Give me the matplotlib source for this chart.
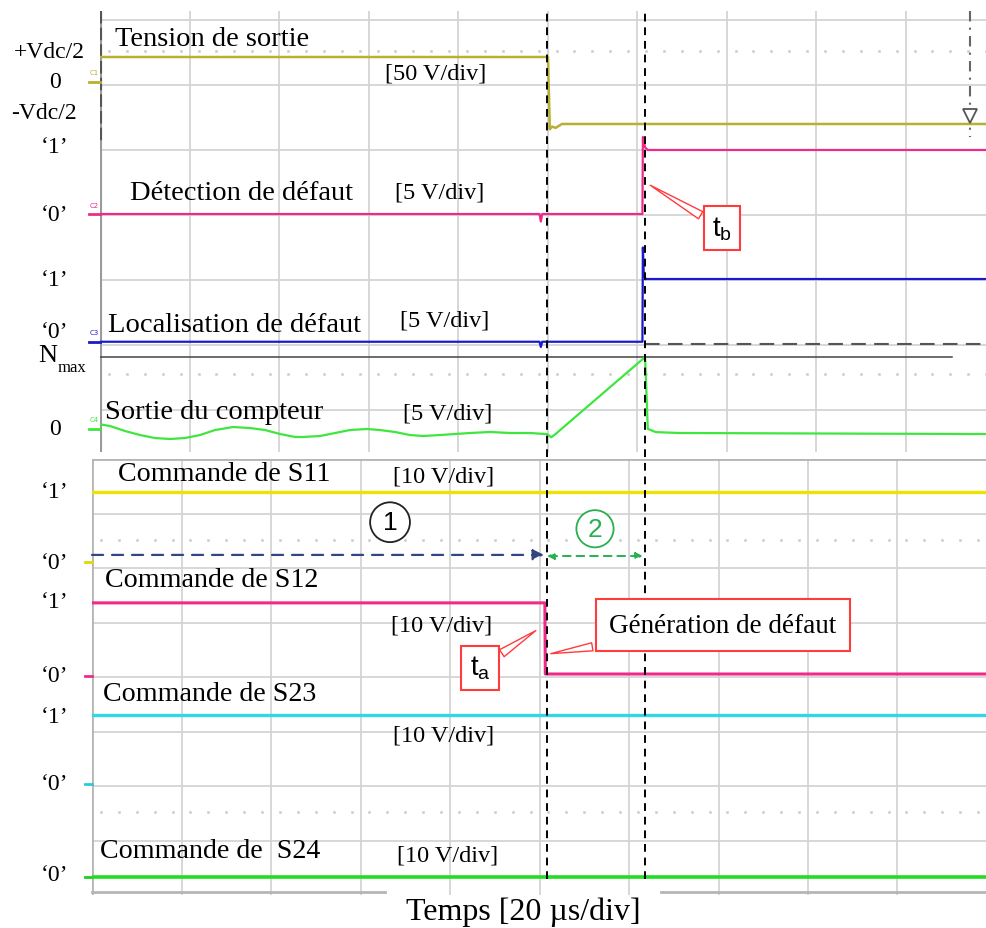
import matplotlib
matplotlib.use("Agg")
import matplotlib.pyplot as plt
import numpy as np

plt.rcParams['font.family'] = ['Liberation Serif', 'DejaVu Serif']

# ---------------- data ----------------
# time base 20 us/div ; levels in screen divisions
t_a = 101.7          # fault generation (us)
t_b = 123.6          # fault detection (us)

# top screen traces
vout_t = [1.8, 101.9, 102.3, 102.8, 103.6, 105.0, 110.0, 200.0]
vout_y = [7.43, 7.43, 6.32, 6.36, 6.34, 6.40, 6.40, 6.40]

det_t = [1.8, 100.0, 100.3, 100.6, 123.0, 123.1, 123.6, 124.2, 200.0]
det_y = [5.015, 5.015, 4.90, 5.015, 5.015, 6.20, 6.04, 6.00, 6.00]

loc_t = [1.8, 100.0, 100.3, 100.6, 123.0, 123.1, 123.3, 123.7, 200.0]
loc_y = [3.05, 3.05, 2.97, 3.05, 3.05, 4.50, 4.10, 4.015, 4.015]

cnt_t = [1.34, 4.02, 7.37, 10.73, 14.08, 17.43, 20.78, 24.13, 27.49, 31.51,
         35.31, 38.66, 42.01, 45.36, 47.15, 50.95, 54.30, 57.65, 61.45, 64.36,
         67.71, 71.06, 73.97, 77.77, 81.12, 84.47, 88.94, 93.41, 97.88, 101.23,
         101.7, 102.6, 103.4, 123.6, 124.2, 126.0, 131.4, 200.0]
cnt_y = [1.785, 1.754, 1.677, 1.615, 1.569, 1.554, 1.569, 1.615, 1.692, 1.738,
         1.723, 1.692, 1.631, 1.585, 1.585, 1.600, 1.646, 1.692, 1.708, 1.692,
         1.662, 1.615, 1.600, 1.615, 1.631, 1.646, 1.662, 1.646, 1.646, 1.631,
         1.63, 1.58, 1.62, 2.815, 1.71, 1.66, 1.646, 1.63]

nmax_level = 2.815
nmax_t = [1.8, 192.2]
ref_dash_level = 3.015
trig_t = 196.2

# bottom screen traces
s11_t = [0.0, 200.0]
s11_y = [7.39, 7.39]
s12_t = [0.0, 101.2, 101.3, 200.0]
s12_y = [5.36, 5.36, 4.055, 4.055]
s23_t = [0.0, 200.0]
s23_y = [3.30, 3.30]
s24_t = [0.0, 200.0]
s24_y = [0.33, 0.33]

arrow1 = (0.0, 101.0, 6.24)
arrow2 = (101.7, 123.1, 6.22)

top_labels = [("+Vdc/2", -9.5, 7.52), ("0", -8.3, 7.05), ("-Vdc/2", -10.8, 6.58),
              ("\u20181\u2019", -8.3, 6.06), ("\u20180\u2019", -8.3, 5.015),
              ("\u20181\u2019", -8.3, 4.015), ("\u20180\u2019", -8.3, 3.215),
              ("0", -8.3, 1.71)]
bot_labels = [("\u20181\u2019", -8.3, 7.41), ("\u20180\u2019", -8.3, 6.11),
              ("\u20181\u2019", -8.3, 5.39), ("\u20180\u2019", -8.3, 4.02),
              ("\u20181\u2019", -8.3, 3.28), ("\u20180\u2019", -8.3, 2.04),
              ("\u20180\u2019", -8.3, 0.385)]

top_titles = [("Tension de sortie", 5.1, 7.72), ("[50 V/div]", 65.5, 7.18),
              ("D\u00e9tection de d\u00e9faut", 8.5, 5.35), ("[5 V/div]", 67.7, 5.35),
              ("Localisation de d\u00e9faut", 3.6, 3.32), ("[5 V/div]", 68.8, 3.38),
              ("Sortie du compteur", 2.9, 1.98), ("[5 V/div]", 69.5, 1.95)]
bot_titles = [("Commande de S11", 5.8, 7.74), ("[10 V/div]", 67.3, 7.69),
              ("Commande de S12", 2.9, 5.78), ("[10 V/div]", 66.8, 4.95),
              ("Commande de S23", 2.5, 3.70), ("[10 V/div]", 67.3, 2.93),
              ("Commande de  S24", 1.8, 0.81), ("[10 V/div]", 68.2, 0.73)]

# ---------------- figure ----------------
W, H = 987, 929
fig = plt.figure(figsize=(W / 100, H / 100), dpi=100)

def rect(l, r, t, b):
    return [l / W, (H - b) / H, (r - l) / W, (b - t) / H]

axT = fig.add_axes(rect(100, 987, 12, 453))
axB = fig.add_axes(rect(92, 987, 460, 896))
for ax in (axT, axB):
    ax.set_facecolor('none')
    for s in ax.spines.values():
        s.set_visible(False)
    ax.set_xticks([])
    ax.set_yticks([])

axT.set_xlim(1.788, 200.0)
axT.set_ylim(1.354, 8.138)
axB.set_xlim(0, 200)
axB.set_ylim(0, 8)

grid_c = '#d4d4d4'
# top grid
for k in range(1, 10):
    axT.axvline(1.788 + 20 * k, color=grid_c, lw=1.3, zorder=0)
for yv in range(2, 9):
    axT.axhline(yv, color=grid_c, lw=1.3, zorder=0)
axT.axvline(1.9, color='#9a9a9a', lw=1.5, zorder=0.5)
axT.plot([1.9, 1.9], [8.14, 6.1], color='#555555', lw=1.5, dashes=(6, 2),
         zorder=0.6)
# bottom grid
for k in range(1, 10):
    axB.axvline(20 * k, color=grid_c, lw=1.3, zorder=0)
for yv in range(1, 8):
    axB.axhline(yv, color=grid_c, lw=1.3, zorder=0)
axB.axhline(8, color='#b5b5b5', lw=2, zorder=0.5)
axB.axvline(0.1, color='#b5b5b5', lw=2, zorder=0.5)
axB.plot([0, 65.5], [0.05, 0.05], color='#b5b5b5', lw=2, clip_on=False)
axB.plot([127.2, 200], [0.05, 0.05], color='#b5b5b5', lw=2, clip_on=False)

# dotted minor rows
dots = np.array([d for d in np.arange(2.0, 200, 4.0) if d % 20 != 0])
for yv in (7.52, 2.55):
    axT.plot(dots + 1.8, [yv] * len(dots), ls='none', marker='s', ms=1.0,
             color='#cfcfcf', zorder=0)
for yv in (6.51, 1.52):
    axB.plot(dots, [yv] * len(dots), ls='none', marker='s', ms=1.0,
             color='#cfcfcf', zorder=0)

# top traces
axT.plot(vout_t, vout_y, color='#b8b030', lw=1.8, zorder=3)
axT.plot(det_t, det_y, color='#ee2a8a', lw=1.6, zorder=3)
axT.plot(loc_t, loc_y, color='#1a1acc', lw=1.6, zorder=3)
axT.plot(cnt_t, cnt_y, color='#3ee63e', lw=1.6, zorder=3)
axT.plot(nmax_t, [nmax_level] * 2, color='#444444', lw=1.1, zorder=2)
axT.plot([t_b, 200], [ref_dash_level] * 2, color='#555555', lw=1.5,
         dashes=(7, 4), zorder=2)
axT.plot([trig_t, trig_t], [8.14, 6.2], color='#666666', lw=1.5,
         dashes=(5, 3, 1, 3), zorder=2)
axT.plot([trig_t], [6.52], marker='v', ms=10, mfc='white', mec='#555555',
         mew=1.3, zorder=4)

# channel markers
for yv, col, lab in ((7.05, '#b8b030', 'C1'), (5.015, '#ee2a8a', 'C2'),
                     (3.05, '#1a1acc', 'C3'), (1.71, '#3ee63e', 'C4')):
    axT.plot([-0.6, 1.8], [yv, yv], color=col, lw=2, clip_on=False)
    axT.text(0.5, yv + 0.1, lab, color=col, fontsize=5, ha='center',
             va='bottom', family='DejaVu Sans')
for yv, col in ((6.11, '#e0d800'), (4.02, '#ee2a8a'), (2.04, '#30c8d8'),
                (0.33, '#22cc22')):
    axB.plot([-1.5, 0.0], [yv, yv], color=col, lw=2, clip_on=False)

# bottom traces
axB.plot(s11_t, s11_y, color='#ece400', lw=2.4, zorder=3)
axB.plot(s12_t, s12_y, color='#ee2a8a', lw=2.2, zorder=3)
axB.plot(s23_t, s23_y, color='#33d6e6', lw=2.4, zorder=3)
axB.plot(s24_t, s24_y, color='#22dd22', lw=2.6, zorder=3)

# vertical cursor lines spanning both screens
for tv in (t_a, t_b):
    axB.plot([tv, tv], [0.3, 16.2], color='black', lw=1.4, dashes=(4, 3),
             clip_on=False, zorder=5)

# arrows
axB.annotate('', xy=(arrow1[1], arrow1[2]), xytext=(arrow1[0], arrow1[2]),
             arrowprops=dict(arrowstyle='-|>', color='#34467e', lw=1.6,
                             ls=(0, (5, 4)), shrinkA=0, shrinkB=0,
                             mutation_scale=16), zorder=4)
axB.annotate('', xy=(arrow2[1], arrow2[2]), xytext=(arrow2[0], arrow2[2]),
             arrowprops=dict(arrowstyle='<|-|>', color='#28b050', lw=1.4,
                             ls=(0, (4, 3)), shrinkA=0, shrinkB=0,
                             mutation_scale=10), zorder=4)
axB.text(66.6, 6.84, '1', fontsize=19, ha='center', va='center',
         family='Liberation Sans',
         bbox=dict(boxstyle='circle,pad=0.3', fc='white', ec='#222222', lw=1.3))
axB.text(112.4, 6.72, '2', fontsize=19, ha='center', va='center',
         color='#28b050', family='Liberation Sans',
         bbox=dict(boxstyle='circle,pad=0.25', fc='white', ec='#28b050', lw=1.3))

# texts
for s, x, y in top_labels:
    axT.text(x, y, s, fontsize=17, ha='center', va='center')
axT.text(-9.8, 2.84, 'N', fontsize=19, ha='center', va='center')
axT.text(-4.4, 2.66, 'max', fontsize=12, ha='center', va='center')
for s, x, y in bot_labels:
    axB.text(x, y, s, fontsize=17, ha='center', va='center')
for s, x, y in top_titles:
    fs = 20.5 if '[' not in s else 17.5
    axT.text(x, y, s, fontsize=fs, ha='left', va='center')
for s, x, y in bot_titles:
    fs = 20.2 if '[' not in s else 17.5
    axB.text(x, y, s, fontsize=fs, ha='left', va='center')
axB.text(96.3, -0.29, 'Temps [20 \u00b5s/div]', fontsize=23, ha='center',
         va='center')

# callouts
red = '#ff3b3b'
wedge = dict(arrowstyle='wedge,tail_width=0.3,shrink_factor=0.5',
             fc='white', ec=red, lw=1.0)
axT.annotate(r'$\mathregular{t_b}$', xy=(124.2, 5.48), xytext=(140.8, 4.80),
             fontsize=20, family='Liberation Sans', ha='center', va='center',
             bbox=dict(boxstyle='square,pad=0.3', fc='white', ec=red, lw=1.5),
             arrowprops=wedge, zorder=6)
axB.annotate('G\u00e9n\u00e9ration de d\u00e9faut', xy=(101.9, 4.42),
             xytext=(141.0, 4.95), fontsize=19.5, ha='center', va='center',
             bbox=dict(boxstyle='square,pad=0.5', fc='white', ec=red, lw=1.5),
             arrowprops=wedge, zorder=6)
axB.annotate(r'$\mathregular{t_a}$', xy=(99.7, 4.88), xytext=(86.7, 4.17),
             fontsize=20, family='Liberation Sans', ha='center', va='center',
             bbox=dict(boxstyle='square,pad=0.3', fc='white', ec=red, lw=1.5),
             arrowprops=wedge, zorder=6)

fig.savefig('out.png', dpi=100, facecolor='white')
